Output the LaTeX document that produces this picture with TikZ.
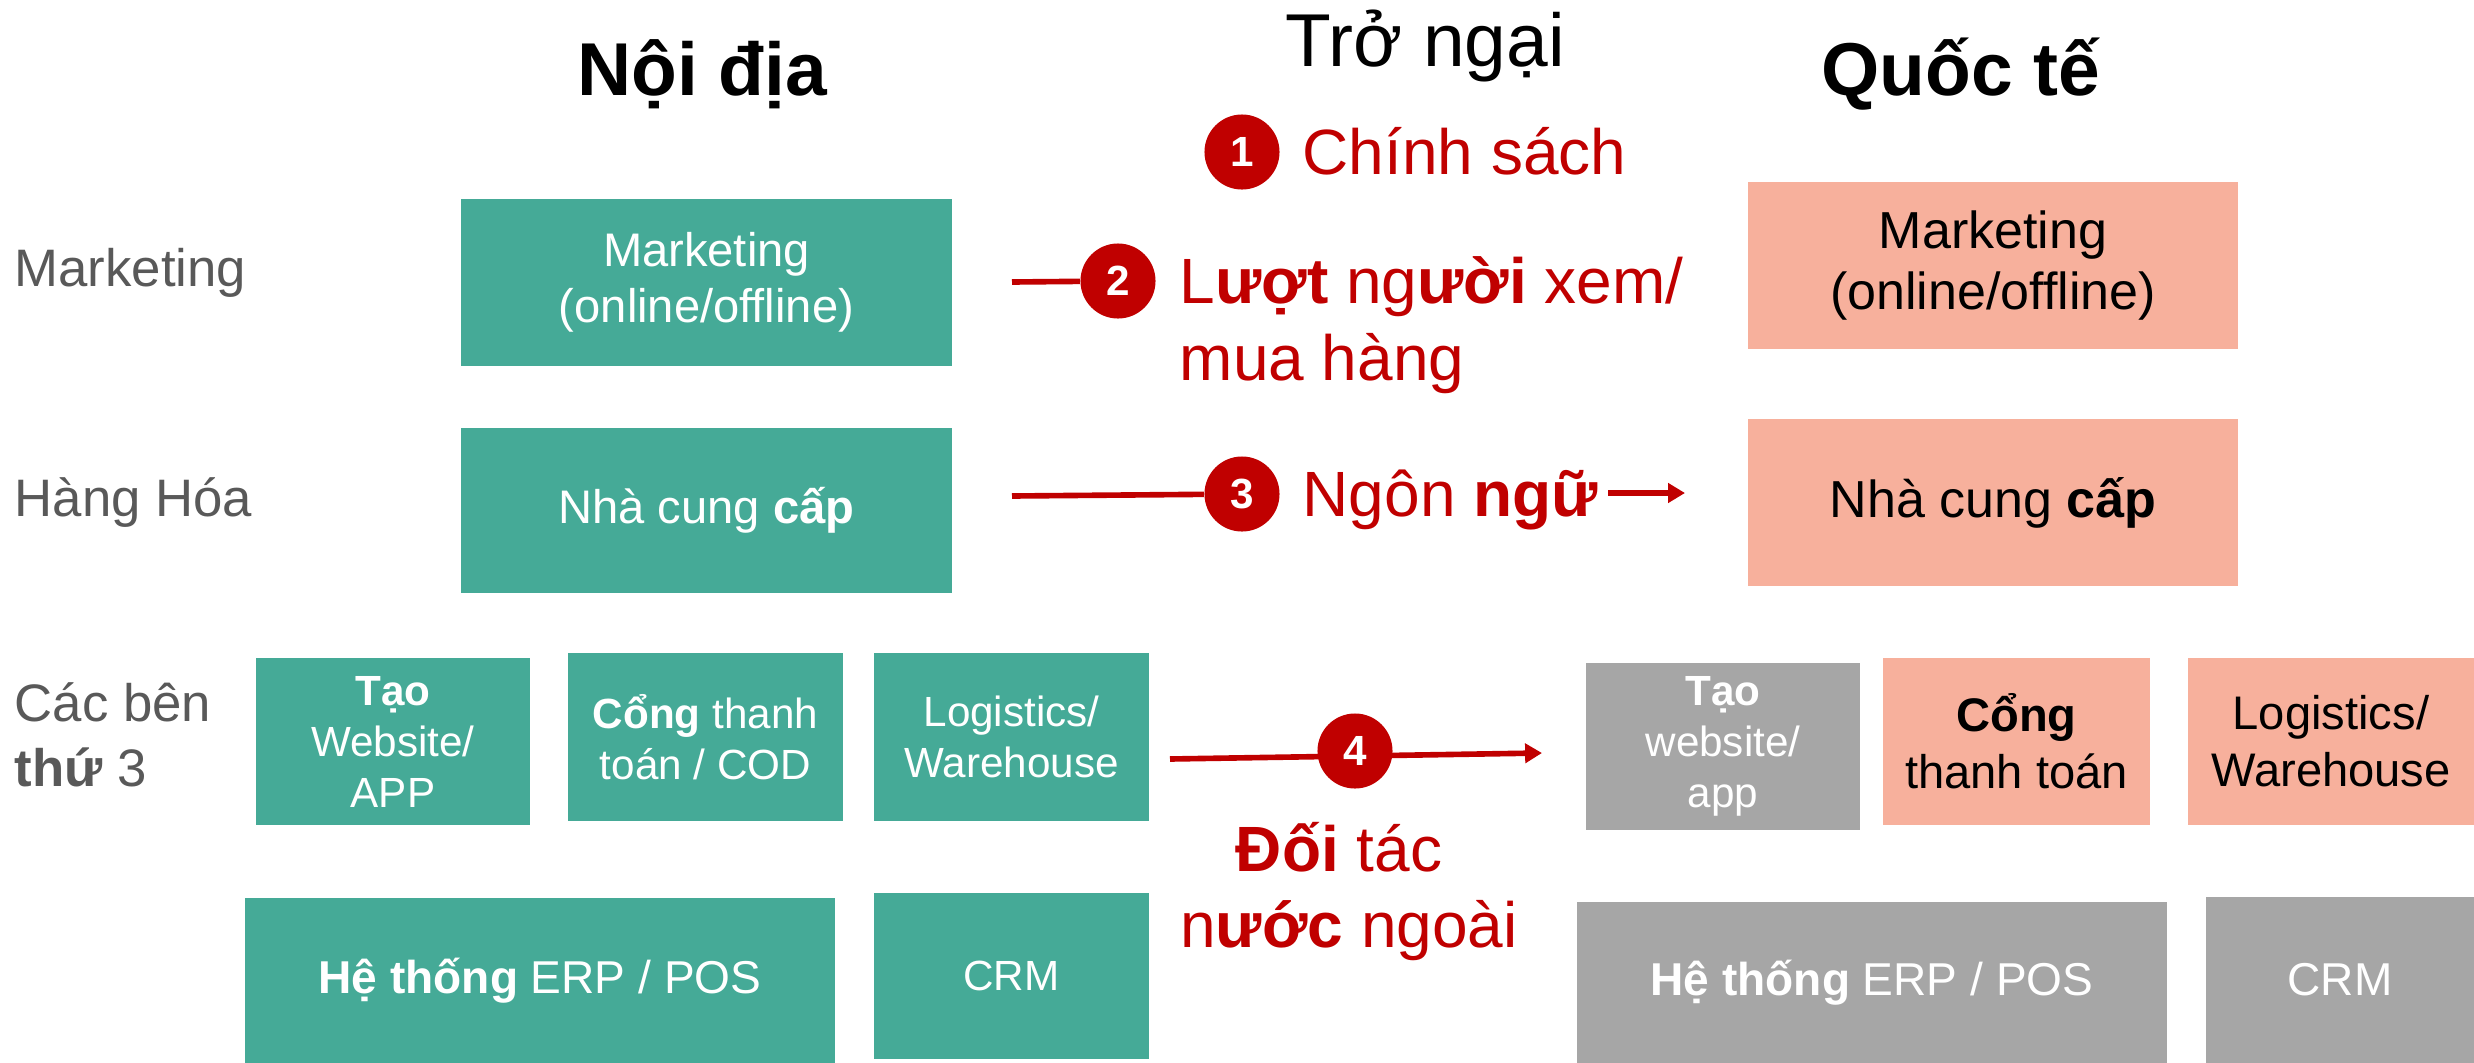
\documentclass[tikz,border=0pt]{standalone}
\usepackage{fontspec}
\setmainfont{Liberation Sans}
\usetikzlibrary{arrows.meta}
\definecolor{tealc}{RGB}{69,170,151}
\definecolor{pinkc}{RGB}{247,176,156}
\definecolor{grayc}{RGB}{166,166,166}
\definecolor{redc}{RGB}{192,0,0}
\definecolor{labelc}{RGB}{89,89,89}
\tikzset{
  box/.style={rectangle, inner sep=0pt, align=center},
  tealbox/.style={box, fill=tealc, text=white},
  pinkbox/.style={box, fill=pinkc, text=black},
  graybox/.style={box, fill=grayc, text=white},
  fbig/.style={font=\fontsize{13.4}{15.9}\selectfont},
  fbigp/.style={font=\fontsize{14.8}{17.6}\selectfont},
  fsmall/.style={font=\fontsize{12}{14.5}\selectfont},
  fsmallp/.style={font=\fontsize{13.4}{16.2}\selectfont},
  ferp/.style={font=\fontsize{13.1}{15.7}\selectfont},
  title/.style={inner sep=0pt, anchor=base, font=\fontsize{21.3}{25}\selectfont},
  rowlabel/.style={inner sep=0pt, anchor=base west, text=labelc, font=\fontsize{15}{18}\selectfont},
  redtext/.style={inner sep=0pt, text=redc, font=\fontsize{18.2}{22}\selectfont},
  numcirc/.style={circle, fill=redc, text=white, inner sep=0pt, minimum size=0.75cm, font=\fontsize{12}{14}\selectfont\bfseries},
  redline/.style={draw=redc, line width=1.6pt},
  redarrow/.style={redline, -{Triangle[length=4.8pt,width=5.4pt]}}
}
\begin{document}
\begin{tikzpicture}[x=0.01cm, y=-0.01cm]
\useasboundingbox (0,0) rectangle (2474,1063);

% titles
\node[title, font=\fontsize{21.3}{25}\selectfont\bfseries] (tnd) at (702,95) {Nội địa};
\node[title] (ttn) at (1425,66) {Trở ngại};
\node[title, font=\fontsize{21.3}{25}\selectfont\bfseries] (tqt) at (1961,95) {Quốc tế};

% row labels
\node[rowlabel] (rmk) at (14,286) {Marketing};
\node[rowlabel] (rhh) at (14,516) {Hàng Hóa};
\node[rowlabel] (rcb1) at (14,721) {Các bên};
\node[rowlabel] (rcb2) at (14,786) {\textbf{thứ} 3};

% domestic boxes
\node[tealbox, fbig, minimum width=4.91cm, minimum height=1.67cm] (mkD) at (706.5,282.5) {Marketing\\(online/offline)};
\node[tealbox, fbig, minimum width=4.91cm, minimum height=1.65cm] (ncD) at (706.5,510.5) {Nhà cung \textbf{cấp}};
\node[tealbox, fsmall, minimum width=2.74cm, minimum height=1.67cm] (taoD) at (393,741.5) {\textbf{Tạo}\\Website/\\APP};
\node[tealbox, fsmall, minimum width=2.75cm, minimum height=1.68cm] (congD) at (705.5,737) {\textbf{Cổng} thanh\\toán / COD};
\node[tealbox, fsmall, minimum width=2.75cm, minimum height=1.68cm] (logD) at (1011.5,737) {Logistics/\\Warehouse};
\node[tealbox, ferp, minimum width=5.90cm, minimum height=1.65cm] (erpD) at (540,980.5) {\textbf{Hệ thống} ERP / POS};
\node[tealbox, fsmall, minimum width=2.75cm, minimum height=1.66cm] (crmD) at (1011.5,976) {CRM};

% international boxes
\node[pinkbox, fbigp, minimum width=4.90cm, minimum height=1.67cm] (mkQ) at (1993,265.5) {Marketing\\(online/offline)};
\node[pinkbox, fbigp, minimum width=4.90cm, minimum height=1.67cm] (ncQ) at (1993,502.5) {Nhà cung \textbf{cấp}};
\node[graybox, fsmall, minimum width=2.74cm, minimum height=1.67cm] (taoQ) at (1723,746.5) {\textbf{Tạo}\\website/\\app};
\node[pinkbox, fsmallp, minimum width=2.67cm, minimum height=1.67cm] (congQ) at (2016.5,741.5) {\textbf{Cổng}\\thanh toán};
\node[pinkbox, fsmallp, minimum width=2.86cm, minimum height=1.67cm] (logQ) at (2331,741.5) {Logistics/\\Warehouse};
\node[graybox, ferp, minimum width=5.90cm, minimum height=1.61cm] (erpQ) at (1872,982.5) {\textbf{Hệ thống} ERP / POS};
\node[graybox, ferp, minimum width=2.68cm, minimum height=1.66cm] (crmQ) at (2340,980) {CRM};

% obstacle 4 arrow (drawn under its circle)
\coordinate (s4) at (1170,759);
\coordinate (e4) at (1542,753);
\draw[redarrow] (s4) -- (e4);

% numbered circles
\node[numcirc] (c1) at (1242,152) {1};
\node[numcirc] (c2) at (1118,281) {2};
\node[numcirc] (c3) at (1242,494) {3};
\node[numcirc] (c4) at (1355,751) {4};

% connectors
\coordinate (s2) at (1012,282);
\draw[redline] (s2) -- (c2);
\coordinate (s3) at (1012,496);
\draw[redline] (s3) -- (c3);
\coordinate (a3s) at (1608,493);
\coordinate (a3e) at (1685,493);
\draw[redarrow] (a3s) -- (a3e);

% obstacle texts
\node[redtext, anchor=base west] (t1) at (1302,174) {Chính sách};
\node[redtext, anchor=base west] (t2a) at (1179,303) {L\textbf{ượt} ng\textbf{ười} xem/};
\node[redtext, anchor=base west] (t2b) at (1179,380) {mua hàng};
\node[redtext, anchor=base west] (t3) at (1302,516) {Ngôn \textbf{ngữ}};
\node[redtext, anchor=base] (t4a) at (1339,871) {\textbf{Đối} tác};
\node[redtext, anchor=base] (t4b) at (1349,947) {n\textbf{ước} ngoài};
\end{tikzpicture}
\end{document}
